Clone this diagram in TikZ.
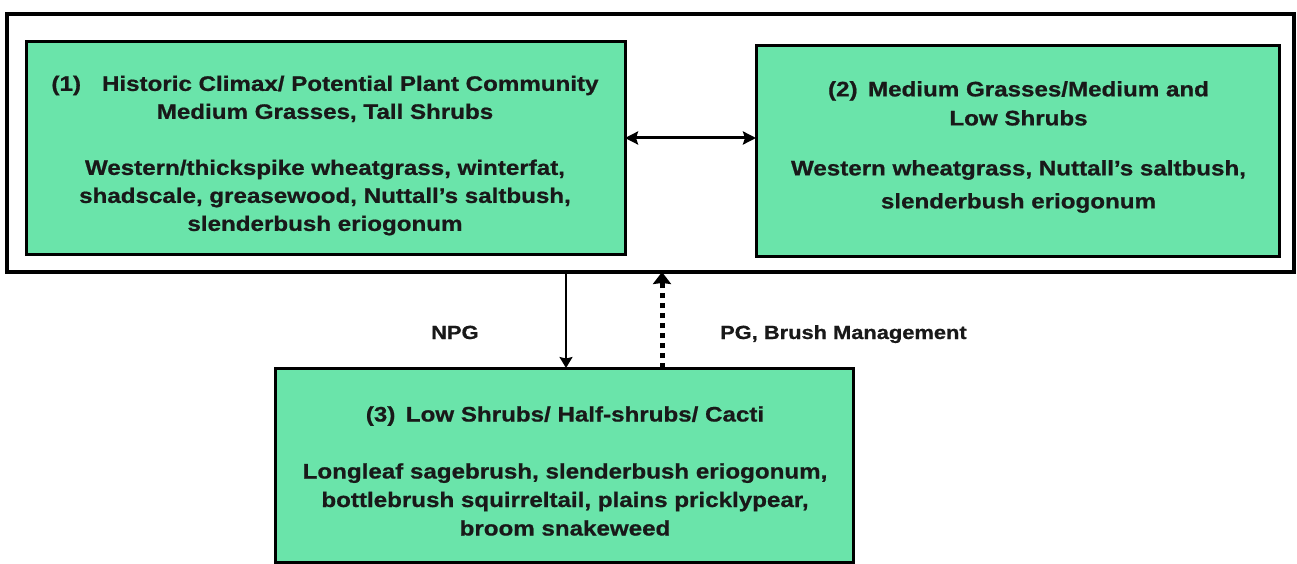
\documentclass[tikz,border=0pt]{standalone}
\usepackage{fontspec}
\setmainfont[FakeStretch=1.15, BoldFeatures={FakeBold=0.8}]{Liberation Sans}
\usetikzlibrary{arrows.meta}
\definecolor{mint}{RGB}{106,228,170}
\definecolor{ink}{RGB}{25,25,25}
\tikzset{
  greenbox/.style={draw=black, line width=3pt, fill=mint, inner sep=0pt, outer sep=0pt},
  boxtext/.style={align=center, inner sep=0pt, text=ink, font=\fontsize{21}{28}\selectfont\bfseries},
  lbl/.style={font=\fontsize{19}{22}\selectfont\bfseries, anchor=base west, inner sep=0pt, text=ink},
  conn/.style={line width=2pt, -{Stealth[length=11pt,width=13pt,inset=1.5pt]}},
  dblconn/.style={line width=3pt, {Stealth[length=13pt,width=13pt,inset=2pt]}-{Stealth[length=13pt,width=13pt,inset=2pt]}},
  dconn/.style={line width=5pt, dash pattern=on 5pt off 5pt, -{Stealth[length=12pt,width=18pt,inset=1pt]}}
}
\begin{document}
\begin{tikzpicture}[x=1pt,y=-1pt]
\useasboundingbox[fill=white] (0,0) rectangle (1297,564);
\node[draw=black, line width=4.5pt, minimum width=1287pt, minimum height=258pt, inner sep=0pt, outer sep=0pt] (outer) at (650.5,143) {};
\node[greenbox, minimum width=599pt, minimum height=212pt] (box1) at (325.5,148) {};
\node[greenbox, minimum width=523pt, minimum height=210pt] (box2) at (1017.5,151) {};
\node[greenbox, minimum width=578pt, minimum height=194pt] (box3) at (564,465) {};
\node[boxtext] (t1) at (325,155.5)
 {(1)\quad Historic Climax/ Potential Plant Community\\ Medium Grasses, Tall Shrubs\\[28pt]
  Western/thickspike wheatgrass, winterfat,\\ shadscale, greasewood, Nuttall's saltbush,\\ slenderbush eriogonum};
\node[boxtext, font=\fontsize{21}{29}\selectfont\bfseries] (t2) at (1018.5,147)
 {(2)\enspace Medium Grasses/Medium and\\ Low Shrubs\\[21pt]
  Western wheatgrass, Nuttall's saltbush,\\[4pt] slenderbush eriogonum};
\node[boxtext, font=\fontsize{21}{28.5}\selectfont\bfseries] (t3) at (565,471)
 {(3)\enspace Low Shrubs/ Half-shrubs/ Cacti\\[28.5pt]
  Longleaf sagebrush, slenderbush eriogonum,\\ bottlebrush squirreltail, plains pricklypear,\\ broom snakeweed};
\coordinate (xd) at (566,0);
\coordinate (xu) at (662,0);
\coordinate (yh) at (0,138);
\draw[dblconn] (box1.east |- yh) -- (box2.west |- yh);
\draw[conn] (outer.south -| xd) -- (box3.north -| xd);
\draw[dconn] (box3.north -| xu) -- (outer.south -| xu);
\node[lbl] (npg) at (431,339) {NPG};
\node[lbl] (pg) at (720,339) {PG, Brush Management};
\end{tikzpicture}
\end{document}
